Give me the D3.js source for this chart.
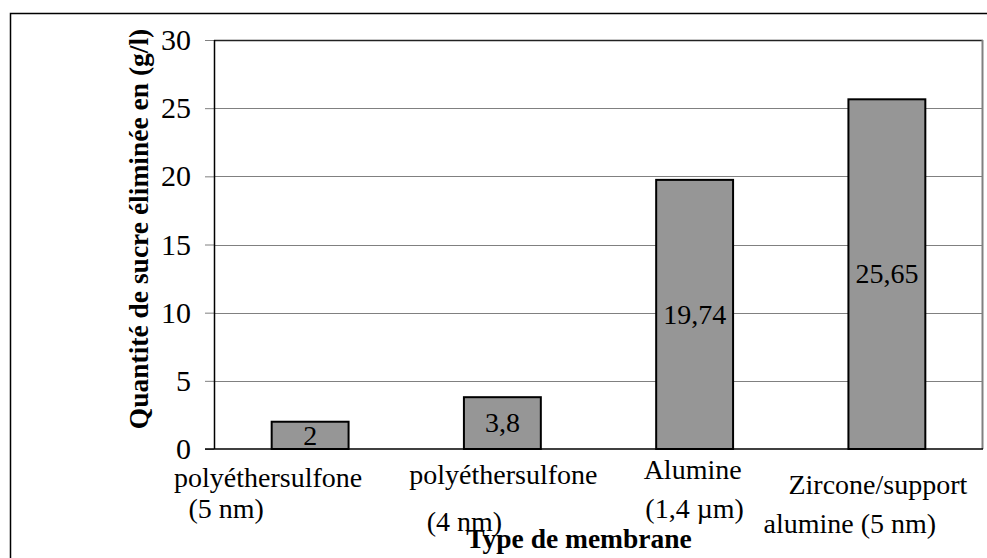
<!DOCTYPE html>
<html>
<head>
<meta charset="utf-8">
<script src="https://cdn.jsdelivr.net/npm/d3@7"></script>
<style>
    body { margin: 0; background: #fff; }
    text { font-family: "Liberation Serif", "Times New Roman", serif; fill: #000; }
    .axis-title { font-weight: bold; font-size: 27.5px; }
</style>
</head>
<body>
<svg id="chart"></svg>
<script>
// membrane types (label lines) and sugar removed in g/l
const categories = ['pes5', 'pes4', 'alumine', 'zircone'];
const labelLines = [
    ['polyéthersulfone', '(5 nm)'],
    ['polyéthersulfone', '(4 nm)'],
    ['Alumine', '(1,4 µm)'],
    ['Zircone/support', 'alumine (5 nm)']
];
const values = [2, 3.8, 19.74, 25.65];
const valueLabels = ['2', '3,8', '19,74', '25,65'];
const yTicks = [0, 5, 10, 15, 20, 25, 30];

// excel placed the wrapped labels a bit irregularly: [dx, dy] per line
const labelOffsets = [
    [[-42, 38], [-84, 69]],
    [[1, 35], [-38, 82]],
    [[-2, 30], [0, 69]],
    [[-9, 45], [-37, 84]]
];

const config = {
    width: 987,
    height: 558,
    margin: { top: 40, right: 4, bottom: 109, left: 214 }
};

const boundedWidth = config.width - config.margin.left - config.margin.right;
const boundedHeight = config.height - config.margin.top - config.margin.bottom;

const svg = d3.select('#chart')
    .attr('width', config.width)
    .attr('height', config.height);

// chart frame (runs off the bottom/right like the original)
svg.append('rect')
    .attr('x', 10.5)
    .attr('y', 13.5)
    .attr('width', 1000)
    .attr('height', 600)
    .attr('fill', 'none')
    .attr('stroke', '#000')
    .attr('stroke-width', 1.5);

const bounds = svg.append('g')
    .attr('transform', `translate(${config.margin.left}, ${config.margin.top})`);

// scales
const xScale = d3.scaleBand()
    .domain(categories)
    .range([0, boundedWidth])
    .paddingInner(0.6)
    .paddingOuter(0.3);

const yScale = d3.scaleLinear()
    .domain([0, 30])
    .range([boundedHeight, 0]);

// gridlines
bounds.append('g')
    .selectAll('line')
    .data(yTicks.filter(d => d > 0 && d < 30))
    .join('line')
    .attr('x1', 0)
    .attr('x2', boundedWidth)
    .attr('y1', d => Math.round(yScale(d)) + 0.5)
    .attr('y2', d => Math.round(yScale(d)) + 0.5)
    .attr('stroke', '#808080')
    .attr('stroke-width', 1);

// plot area border: dark top, grey right
bounds.append('line')
    .attr('x1', 0).attr('x2', boundedWidth)
    .attr('y1', yScale(30) + 0.5).attr('y2', yScale(30) + 0.5)
    .attr('stroke', '#222')
    .attr('stroke-width', 1.5);

bounds.append('line')
    .attr('x1', boundedWidth - 0.5).attr('x2', boundedWidth - 0.5)
    .attr('y1', 0).attr('y2', boundedHeight)
    .attr('stroke', '#808080')
    .attr('stroke-width', 2);

// y axis
const yAxis = d3.axisLeft(yScale)
    .tickValues(yTicks)
    .tickSize(9)
    .tickPadding(14);

const yAxisG = bounds.append('g')
    .call(yAxis);

yAxisG.select('.domain').remove();
yAxisG.selectAll('.tick line').attr('stroke', '#808080');
yAxisG.selectAll('.tick text')
    .style('font-size', '30px')
    .attr('font-family', null)
    .attr('dy', '0.32em');

bounds.append('line')
    .attr('x1', 0.5).attr('x2', 0.5)
    .attr('y1', 0).attr('y2', boundedHeight)
    .attr('stroke', '#000')
    .attr('stroke-width', 1.5);

// bars
bounds.append('g')
    .selectAll('rect')
    .data(values)
    .join('rect')
    .attr('x', (d, i) => xScale(categories[i]))
    .attr('y', d => yScale(d))
    .attr('width', xScale.bandwidth())
    .attr('height', d => boundedHeight - yScale(d))
    .attr('fill', '#969696')
    .attr('stroke', '#000')
    .attr('stroke-width', 2);

// x axis baseline
bounds.append('line')
    .attr('x1', -9).attr('x2', boundedWidth)
    .attr('y1', boundedHeight).attr('y2', boundedHeight)
    .attr('stroke', '#000')
    .attr('stroke-width', 1.5);

// value labels in the middle of each bar
bounds.append('g')
    .selectAll('text')
    .data(values)
    .join('text')
    .attr('x', (d, i) => xScale(categories[i]) + xScale.bandwidth() / 2)
    .attr('y', d => (yScale(d) + boundedHeight) / 2)
    .attr('dy', '0.33em')
    .attr('text-anchor', 'middle')
    .style('font-size', '28px')
    .text((d, i) => valueLabels[i]);

// category labels (two lines each)
const catG = bounds.append('g')
    .selectAll('g')
    .data(categories)
    .join('g')
    .attr('transform', d => `translate(${xScale(d) + xScale.bandwidth() / 2}, ${boundedHeight})`);

catG.selectAll('text')
    .data((d, i) => labelLines[i].map((t, j) => ({ t, off: labelOffsets[i][j] })))
    .join('text')
    .attr('x', d => d.off[0])
    .attr('y', d => d.off[1])
    .attr('text-anchor', 'middle')
    .style('font-size', '28px')
    .text(d => d.t);

// axis titles
svg.append('text')
    .attr('class', 'axis-title')
    .attr('x', 579)
    .attr('y', 548)
    .attr('text-anchor', 'middle')
    .text('Type de membrane');

svg.append('text')
    .attr('class', 'axis-title')
    .attr('transform', 'translate(148, 229) rotate(-90)')
    .attr('text-anchor', 'middle')
    .text('Quantité de sucre éliminée en (g/l)');
</script>
</body>
</html>
